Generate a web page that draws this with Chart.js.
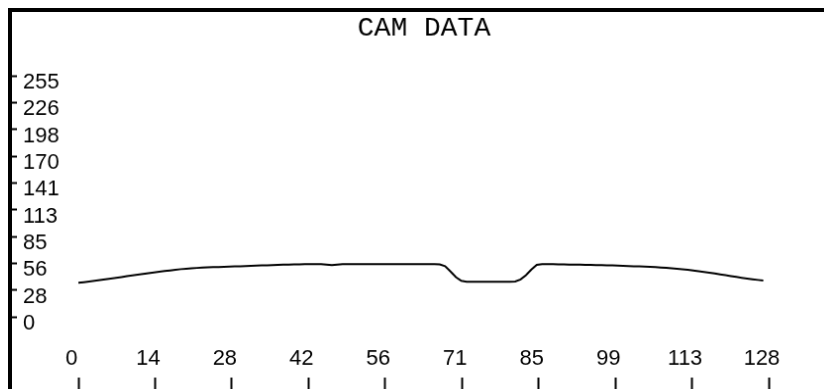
<!DOCTYPE html>
<html>
<head>
<meta charset="utf-8">
<script src="https://cdn.jsdelivr.net/npm/chart.js"></script>
<style>
  html, body { margin: 0; padding: 0; overflow: hidden; background: #fff; }
  body { margin: 8px; }
  #camChart { border: 4px solid #000; display: block; }
</style>
</head>
<body>
<canvas id="camChart" width="832" height="400"></canvas>
<script>
// pixel values, one per column 0..127
var camValues = [
  36.0, 36.6, 37.3, 38.1, 38.9, 39.7, 40.5, 41.3, 42.1, 42.9,
  43.7, 44.5, 45.3, 46.1, 46.9, 47.7, 48.4, 49.1, 49.8, 50.4,
  50.9, 51.3, 51.7, 52.0, 52.3, 52.5, 52.7, 52.9, 53.1, 53.3,
  53.5, 53.7, 53.9, 54.1, 54.3, 54.5, 54.7, 54.9, 55.1, 55.3,
  55.4, 55.5, 55.6, 55.7, 55.8, 55.8, 55.3, 54.6, 55.3, 55.8,
  55.8, 55.8, 55.8, 55.8, 55.8, 55.8, 55.7, 55.7, 55.7, 55.7,
  55.7, 55.7, 55.6, 55.6, 55.6, 55.6, 55.6, 55.4, 53.5, 48.0,
  42.0, 38.0, 37.0, 37.0, 37.0, 37.0, 37.0, 37.0, 37.0, 37.0,
  37.0, 37.3, 39.5, 44.0, 50.0, 55.0, 55.7, 55.6, 55.6, 55.5,
  55.4, 55.3, 55.2, 55.1, 55.0, 54.9, 54.8, 54.7, 54.5, 54.3,
  54.1, 53.9, 53.7, 53.5, 53.3, 53.1, 52.8, 52.5, 52.2, 51.8,
  51.4, 50.9, 50.3, 49.7, 49.0, 48.3, 47.5, 46.7, 45.8, 44.9,
  44.0, 43.1, 42.2, 41.3, 40.5, 39.7, 39.0, 38.4
];
var pixelIndex = camValues.map(function (v, i) { return i; });

// axis ticks (10 evenly spaced marks, labels truncated)
var xTicks = [0, 14.22, 28.44, 42.67, 56.89, 71.11, 85.33, 99.56, 113.78, 128];
var xTickLabels = ['0', '14', '28', '42', '56', '71', '85', '99', '113', '128'];
var yTicks = [0, 28.33, 56.67, 85, 113.33, 141.67, 170, 198.33, 226.67, 255];
var yTickLabels = ['0', '28', '56', '85', '113', '141', '170', '198', '226', '255'];

var labelFont = { family: "'Liberation Sans', Arial, sans-serif", size: 22 };
var titleFont = { family: "'Liberation Mono', 'Courier New', monospace", size: 28, weight: 'normal' };

function drawChart() {
    var ctx = document.getElementById('camChart').getContext('2d');
    return new Chart(ctx, {
        type: 'line',
        data: {
            datasets: [{
                label: 'CAM DATA',
                data: pixelIndex.map(function (x, i) { return { x: x, y: camValues[i] }; }),
                borderColor: '#000',
                borderWidth: 2,
                pointRadius: 0,
                tension: 0,
                fill: false,
                yAxisID: 'y'
            }]
        },
        options: {
            responsive: false,
            animation: false,
            layout: { padding: { left: 11, right: 11, top: 0, bottom: 0 } },
            plugins: {
                legend: { display: false },
                tooltip: { enabled: false },
                title: {
                    display: true,
                    text: 'CAM DATA',
                    color: '#000',
                    font: titleFont,
                    padding: { top: 0, bottom: 31.4 }
                }
            },
            scales: {
                x: {
                    type: 'linear',
                    min: 0,
                    max: 128,
                    afterBuildTicks: function (scale) {
                        scale.ticks = xTicks.map(function (v) { return { value: v }; });
                    },
                    afterFit: function (scale) { scale.height = 89; },
                    ticks: {
                        color: '#000',
                        font: labelFont,
                        padding: -47,
                        labelOffset: -7,
                        maxRotation: 0,
                        autoSkip: false,
                        callback: function (v, i) { return xTickLabels[i]; }
                    },
                    grid: {
                        drawOnChartArea: false,
                        tickLength: 77,
                        tickWidth: 2,
                        tickColor: '#000',
                        tickBorderDash: [0, 62, 30]
                    },
                    border: { display: false }
                },
                y: {
                    type: 'linear',
                    position: 'left',
                    min: 0,
                    max: 255,
                    afterBuildTicks: function (scale) {
                        scale.ticks = yTicks.map(function (v) { return { value: v }; });
                    },
                    afterFit: function (scale) { scale.width = 56; },
                    ticks: {
                        color: '#000',
                        font: labelFont,
                        crossAlign: 'far',
                        labelOffset: 7,
                        autoSkip: false,
                        callback: function (v, i) { return yTickLabels[i]; }
                    },
                    grid: {
                        drawOnChartArea: false,
                        tickLength: 67,
                        tickWidth: 2,
                        tickColor: '#000',
                        tickBorderDash: [5, 200]
                    },
                    border: { display: false }
                },
                // empty right-hand strip, keeps the plot centred under the title
                y2: {
                    type: 'linear',
                    position: 'right',
                    afterFit: function (scale) { scale.width = 57; },
                    ticks: { display: false },
                    grid: { display: false },
                    border: { display: false }
                }
            }
        }
    });
}

// make sure the system fonts are ready before the canvas text is drawn
Promise.all([
    document.fonts.load("22px 'Liberation Sans'"),
    document.fonts.load("28px 'Liberation Mono'")
]).then(drawChart, drawChart);
</script>
</body>
</html>
